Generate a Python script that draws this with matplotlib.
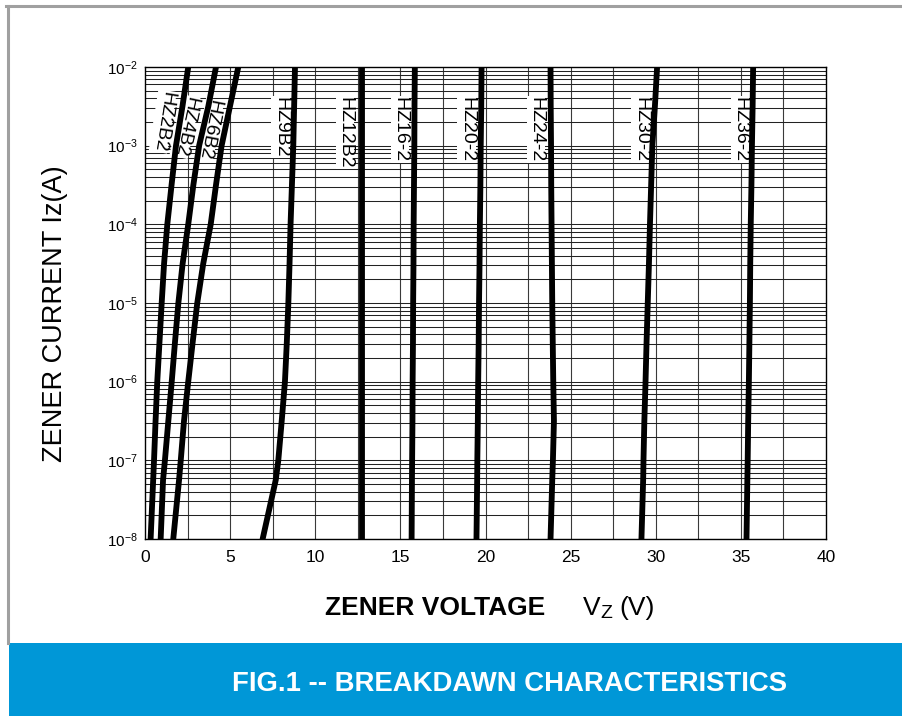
import numpy as np
import matplotlib
matplotlib.use("Agg")
import matplotlib.pyplot as plt
from matplotlib.patches import Rectangle
from matplotlib.lines import Line2D

plt.rcParams['font.family'] = ['Liberation Sans', 'DejaVu Sans']

# current levels (log10 A) shared by all curves
log_current = [-8, -7.25, -7, -6.5, -6, -5.5, -5, -4.5, -4, -3.5, -3, -2.5, -2]

# zener voltage read at each current level
hz2b2 = [0.33, 0.48, 0.53, 0.62, 0.72, 0.85, 0.98, 1.12, 1.31, 1.56, 1.82, 2.20, 2.54]
hz4b2 = [0.92, 1.06, 1.17, 1.37, 1.57, 1.76, 1.96, 2.21, 2.54, 2.84, 3.18, 3.72, 4.17]
hz6b2 = [1.66, 2.00, 2.10, 2.29, 2.54, 2.80, 3.07, 3.42, 3.86, 4.17, 4.50, 4.99, 5.48]
hz9b2 = [6.91, 7.68, 7.83, 8.03, 8.22, 8.33, 8.42, 8.49, 8.55, 8.63, 8.71, 8.76, 8.81]
hz12b2 = [12.75] * 13
hz16_2 = [15.66, 15.68, 15.69, 15.71, 15.72, 15.74, 15.75, 15.77, 15.78, 15.80, 15.82, 15.83, 15.85]
hz20_2 = [19.47, 19.51, 19.52, 19.55, 19.57, 19.60, 19.62, 19.65, 19.67, 19.70, 19.72, 19.75, 19.77]
hz24_2 = [23.82, 23.92, 23.96, 24.02, 23.98, 23.95, 23.92, 23.90, 23.88, 23.86, 23.85, 23.83, 23.82]
hz30_2 = [29.16, 29.26, 29.28, 29.33, 29.40, 29.46, 29.53, 29.60, 29.66, 29.73, 29.80, 29.95, 30.08]
hz36_2 = [35.33, 35.38, 35.40, 35.43, 35.47, 35.50, 35.53, 35.55, 35.58, 35.62, 35.65, 35.69, 35.72]

curves = [hz2b2, hz4b2, hz6b2, hz9b2, hz12b2, hz16_2, hz20_2, hz24_2, hz30_2, hz36_2]
names = ["HZ2B2", "HZ4B2", "HZ6B2", "HZ9B2", "HZ12B2",
         "HZ16-2", "HZ20-2", "HZ24-2", "HZ30-2", "HZ36-2"]
# label start (top end of the text)
label_v = [1.32, 2.72, 4.12, 7.97, 11.74, 14.97, 18.89, 22.96, 29.10, 34.94]
label_logi = [-2.31, -2.38, -2.42, -2.38, -2.38, -2.38, -2.38, -2.38, -2.38, -2.38]
label_rot = [-99, -102, -101, -90, -90, -90, -90, -90, -90, -90]

x_ticks = [0, 5, 10, 15, 20, 25, 30, 35, 40]
y_decades = [-8, -7, -6, -5, -4, -3, -2]

fig = plt.figure(figsize=(9.03, 7.16), dpi=100)

# frame: gray lines top / left, blue caption band
fig.add_artist(Line2D([7.5 / 903, 7.5 / 903], [1 - 5.5 / 716, 1 - 643 / 716],
                      transform=fig.transFigure, color='#a0a0a0', lw=2.2))
fig.add_artist(Line2D([6.5 / 903, 1.0], [1 - 5.5 / 716, 1 - 5.5 / 716],
                      transform=fig.transFigure, color='#a0a0a0', lw=2.2))
fig.add_artist(Rectangle((9 / 903, 0), 1, 73 / 716, transform=fig.transFigure,
                         facecolor='#0097d7', edgecolor='none'))
fig.text(510 / 903, 1 - 684 / 716, "FIG.1 -- BREAKDAWN CHARACTERISTICS",
         color='white', fontsize=19.8, fontweight='bold', ha='center', va='center')

ax = fig.add_axes([145 / 903, 1 - 539 / 716, 681 / 903, 472 / 716])
ax.set_yscale('log')
ax.set_xlim(0, 40)
ax.set_ylim(1e-8, 1e-2)

# grid: every 2.5 V and log minor lines
for v in np.arange(2.5, 40, 2.5):
    ax.axvline(v, color='#3a3a3a', lw=0.8, zorder=1)
for d in y_decades[:-1]:
    for m in range(1, 10):
        ax.axhline(m * 10.0 ** d, color='#222222', lw=0.75, zorder=1)
ax.axhline(1e-2, color='#222222', lw=1.2, zorder=1)

for v_pts, name, lx, ly, rot in zip(curves, names, label_v, label_logi, label_rot):
    ax.plot(v_pts, 10.0 ** np.array(log_current), color='black', lw=4.2,
            solid_capstyle='round', solid_joinstyle='round', zorder=3)
    ax.text(lx, 10.0 ** ly, name, rotation=rot, rotation_mode='anchor',
            ha='left', va='center', fontsize=14, zorder=2,
            bbox=dict(facecolor='white', edgecolor='none', pad=0.5))

ax.set_xticks(x_ticks)
ax.set_xticklabels([str(t) for t in x_ticks], fontsize=12.5)
ax.set_yticks([10.0 ** d for d in y_decades])
ax.set_yticklabels([r'$\mathregular{10^{%d}}$' % d for d in y_decades], fontsize=11)
ax.yaxis.set_minor_locator(matplotlib.ticker.NullLocator())
ax.tick_params(axis='both', which='both', length=0)
ax.tick_params(axis='x', pad=8)
ax.tick_params(axis='y', pad=5)
for s in ax.spines.values():
    s.set_color('black')
    s.set_linewidth(1.0)

fig.text(55 / 903, 1 - 314 / 716, "ZENER CURRENT Iz(A)", rotation=90,
         fontsize=19.5, ha='center', va='center')
fig.text(435 / 903, 1 - 608 / 716, "ZENER VOLTAGE", fontsize=19,
         fontweight='bold', ha='center', va='center')
fig.text(583 / 903, 1 - 608 / 716, "V", fontsize=19, ha='left', va='center')
fig.text(600 / 903, 1 - 613 / 716, "Z", fontsize=14, ha='left', va='center')
fig.text(619 / 903, 1 - 608 / 716, "(V)", fontsize=19, ha='left', va='center')

fig.savefig("out.png", dpi=100)
